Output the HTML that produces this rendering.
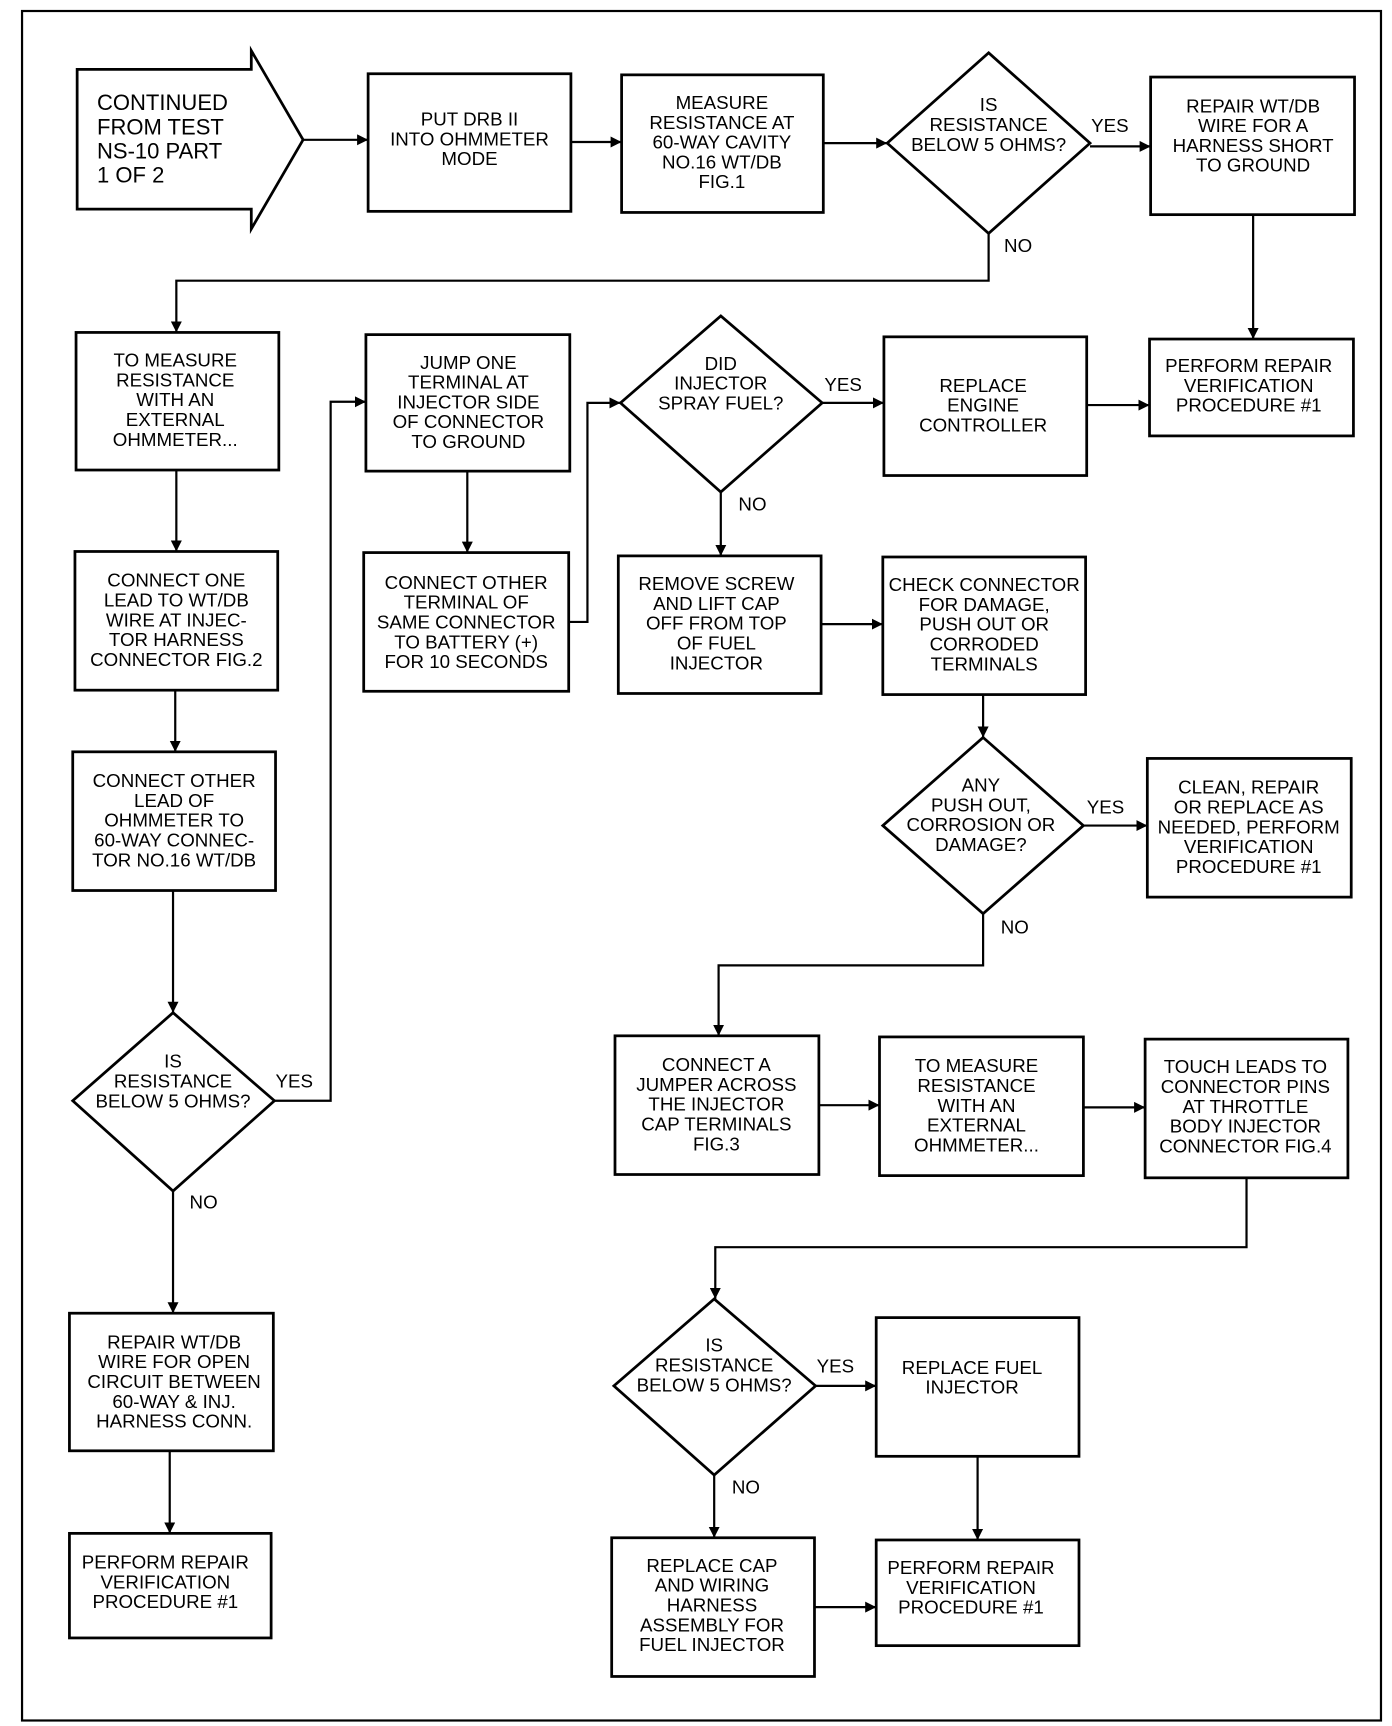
<!DOCTYPE html>
<html><head><meta charset="utf-8"><style>
html,body{margin:0;padding:0;background:#fff;}
svg{display:block;}
text{font-family:"Liberation Sans",sans-serif;font-size:17px;fill:#000;}
.b{fill:#fff;stroke:#000;stroke-width:2.5;}
.l{fill:none;stroke:#000;stroke-width:2;}
</style></head><body>
<svg width="1392" height="1726" viewBox="0 0 1263 1568" preserveAspectRatio="none" xmlns="http://www.w3.org/2000/svg">
<defs><marker id="a" viewBox="0 0 10 10" refX="10" refY="5" markerWidth="5" markerHeight="5" orient="auto"><path d="M0,0 L10,5 L0,10 z" fill="#000"/></marker></defs>
<rect x="0" y="0" width="1263" height="1568" fill="#fff"/>
<rect x="20" y="10" width="1233" height="1553" fill="none" stroke="#000" stroke-width="2"/>
<!-- start arrow -->
<path class="b" d="M70,63 L228,63 L228,46 L275,127 L228,208 L228,190 L70,190 Z"/>
<text x="88" y="100" style="font-size:20px">CONTINUED</text>
<text x="88" y="122" style="font-size:20px">FROM TEST</text>
<text x="88" y="144" style="font-size:20px">NS-10 PART</text>
<text x="88" y="166" style="font-size:20px">1 OF 2</text>
<!-- boxes -->
<rect class="b" x="334" y="67" width="184" height="125"/>
<rect class="b" x="564" y="68" width="183" height="125"/>
<polygon class="b" points="897,48 989,130 897,212 805,130"/>
<rect class="b" x="1044" y="70" width="185" height="125"/>
<rect class="b" x="69" y="302" width="184" height="125"/>
<rect class="b" x="68" y="501" width="184" height="126"/>
<rect class="b" x="66" y="683" width="184" height="126"/>
<polygon class="b" points="157,920 249,1000 157,1082 66,1000"/>
<rect class="b" x="63" y="1193" width="185" height="125"/>
<rect class="b" x="63" y="1393" width="183" height="95"/>
<rect class="b" x="332" y="304" width="185" height="124"/>
<rect class="b" x="330" y="502" width="186" height="126"/>
<polygon class="b" points="654,287 746,366 654,447 563,366"/>
<rect class="b" x="802" y="306" width="184" height="126"/>
<rect class="b" x="1043" y="308" width="185" height="88"/>
<rect class="b" x="561" y="505" width="184" height="125"/>
<rect class="b" x="801" y="506" width="184" height="125"/>
<polygon class="b" points="892,670 983,750 892,830 801,750"/>
<rect class="b" x="1041" y="689" width="185" height="126"/>
<rect class="b" x="558" y="941" width="185" height="126"/>
<rect class="b" x="798" y="942" width="185" height="126"/>
<rect class="b" x="1039" y="944" width="184" height="126"/>
<polygon class="b" points="648,1180 740,1259 648,1340 557,1259"/>
<rect class="b" x="795" y="1197" width="184" height="126"/>
<rect class="b" x="555" y="1397" width="184" height="126"/>
<rect class="b" x="795" y="1399" width="184" height="96"/>
<!-- connectors -->
<g class="l" marker-end="url(#a)">
<path d="M275,127 L334,127"/>
<path d="M518,129 L564,129"/>
<path d="M747,130 L805,130"/>
<path d="M989,133 L1044,133"/>
<path d="M897,212 L897,255 L160,255 L160,302"/>
<path d="M1137,195 L1137,308"/>
<path d="M160,427 L160,501"/>
<path d="M159,627 L159,683"/>
<path d="M157,809 L157,920"/>
<path d="M157,1082 L157,1193"/>
<path d="M154,1318 L154,1393"/>
<path d="M249,1000 L300,1000 L300,365 L332,365"/>
<path d="M424,428 L424,502"/>
<path d="M516,565 L533,565 L533,366 L563,366"/>
<path d="M746,366 L802,366"/>
<path d="M986,368 L1043,368"/>
<path d="M654,447 L654,505"/>
<path d="M745,567 L801,567"/>
<path d="M892,631 L892,670"/>
<path d="M983,750 L1041,750"/>
<path d="M892,830 L892,877 L652,877 L652,941"/>
<path d="M743,1004 L798,1004"/>
<path d="M983,1006 L1039,1006"/>
<path d="M1131,1070 L1131,1133 L649,1133 L649,1180"/>
<path d="M740,1259 L795,1259"/>
<path d="M648,1340 L648,1397"/>
<path d="M739,1460 L795,1460"/>
<path d="M887,1323 L887,1399"/>
</g>
<!-- labels -->
<text x="990" y="120">YES</text>
<text x="911" y="229">NO</text>
<text x="250" y="988">YES</text>
<text x="172" y="1098">NO</text>
<text x="748" y="355">YES</text>
<text x="670" y="464">NO</text>
<text x="986" y="739">YES</text>
<text x="908" y="848">NO</text>
<text x="741" y="1247">YES</text>
<text x="664" y="1357">NO</text>
<g text-anchor="middle">
<text x="426" y="114"><tspan x="426">PUT DRB II</tspan><tspan x="426" dy="18">INTO OHMMETER</tspan><tspan x="426" dy="18">MODE</tspan></text>
<text x="655" y="99"><tspan x="655">MEASURE</tspan><tspan x="655" dy="18">RESISTANCE AT</tspan><tspan x="655" dy="18">60-WAY CAVITY</tspan><tspan x="655" dy="18">NO.16 WT/DB</tspan><tspan x="655" dy="18">FIG.1</tspan></text>
<text x="897" y="101"><tspan x="897">IS</tspan><tspan x="897" dy="18">RESISTANCE</tspan><tspan x="897" dy="18">BELOW 5 OHMS?</tspan></text>
<text x="1137" y="102"><tspan x="1137">REPAIR WT/DB</tspan><tspan x="1137" dy="18">WIRE FOR A</tspan><tspan x="1137" dy="18">HARNESS SHORT</tspan><tspan x="1137" dy="18">TO GROUND</tspan></text>
<text x="159" y="333"><tspan x="159">TO MEASURE</tspan><tspan x="159" dy="18">RESISTANCE</tspan><tspan x="159" dy="18">WITH AN</tspan><tspan x="159" dy="18">EXTERNAL</tspan><tspan x="159" dy="18">OHMMETER...</tspan></text>
<text x="160" y="533"><tspan x="160">CONNECT ONE</tspan><tspan x="160" dy="18">LEAD TO WT/DB</tspan><tspan x="160" dy="18">WIRE AT INJEC-</tspan><tspan x="160" dy="18">TOR HARNESS</tspan><tspan x="160" dy="18">CONNECTOR FIG.2</tspan></text>
<text x="158" y="715"><tspan x="158">CONNECT OTHER</tspan><tspan x="158" dy="18">LEAD OF</tspan><tspan x="158" dy="18">OHMMETER TO</tspan><tspan x="158" dy="18">60-WAY CONNEC-</tspan><tspan x="158" dy="18">TOR NO.16 WT/DB</tspan></text>
<text x="157" y="970"><tspan x="157">IS</tspan><tspan x="157" dy="18">RESISTANCE</tspan><tspan x="157" dy="18">BELOW 5 OHMS?</tspan></text>
<text x="158" y="1225"><tspan x="158">REPAIR WT/DB</tspan><tspan x="158" dy="18">WIRE FOR OPEN</tspan><tspan x="158" dy="18">CIRCUIT BETWEEN</tspan><tspan x="158" dy="18">60-WAY &amp; INJ.</tspan><tspan x="158" dy="18">HARNESS CONN.</tspan></text>
<text x="150" y="1425"><tspan x="150">PERFORM REPAIR</tspan><tspan x="150" dy="18">VERIFICATION</tspan><tspan x="150" dy="18">PROCEDURE #1</tspan></text>
<text x="425" y="335"><tspan x="425">JUMP ONE</tspan><tspan x="425" dy="18">TERMINAL AT</tspan><tspan x="425" dy="18">INJECTOR SIDE</tspan><tspan x="425" dy="18">OF CONNECTOR</tspan><tspan x="425" dy="18">TO GROUND</tspan></text>
<text x="423" y="535"><tspan x="423">CONNECT OTHER</tspan><tspan x="423" dy="18">TERMINAL OF</tspan><tspan x="423" dy="18">SAME CONNECTOR</tspan><tspan x="423" dy="18">TO BATTERY (+)</tspan><tspan x="423" dy="18">FOR 10 SECONDS</tspan></text>
<text x="654" y="336"><tspan x="654">DID</tspan><tspan x="654" dy="18">INJECTOR</tspan><tspan x="654" dy="18">SPRAY FUEL?</tspan></text>
<text x="892" y="356"><tspan x="892">REPLACE</tspan><tspan x="892" dy="18">ENGINE</tspan><tspan x="892" dy="18">CONTROLLER</tspan></text>
<text x="1133" y="338"><tspan x="1133">PERFORM REPAIR</tspan><tspan x="1133" dy="18">VERIFICATION</tspan><tspan x="1133" dy="18">PROCEDURE #1</tspan></text>
<text x="650" y="536"><tspan x="650">REMOVE SCREW</tspan><tspan x="650" dy="18">AND LIFT CAP</tspan><tspan x="650" dy="18">OFF FROM TOP</tspan><tspan x="650" dy="18">OF FUEL</tspan><tspan x="650" dy="18">INJECTOR</tspan></text>
<text x="893" y="537"><tspan x="893">CHECK CONNECTOR</tspan><tspan x="893" dy="18">FOR DAMAGE,</tspan><tspan x="893" dy="18">PUSH OUT OR</tspan><tspan x="893" dy="18">CORRODED</tspan><tspan x="893" dy="18">TERMINALS</tspan></text>
<text x="890" y="719"><tspan x="890">ANY</tspan><tspan x="890" dy="18">PUSH OUT,</tspan><tspan x="890" dy="18">CORROSION OR</tspan><tspan x="890" dy="18">DAMAGE?</tspan></text>
<text x="1133" y="721"><tspan x="1133">CLEAN, REPAIR</tspan><tspan x="1133" dy="18">OR REPLACE AS</tspan><tspan x="1133" dy="18">NEEDED, PERFORM</tspan><tspan x="1133" dy="18">VERIFICATION</tspan><tspan x="1133" dy="18">PROCEDURE #1</tspan></text>
<text x="650" y="973"><tspan x="650">CONNECT A</tspan><tspan x="650" dy="18">JUMPER ACROSS</tspan><tspan x="650" dy="18">THE INJECTOR</tspan><tspan x="650" dy="18">CAP TERMINALS</tspan><tspan x="650" dy="18">FIG.3</tspan></text>
<text x="886" y="974"><tspan x="886">TO MEASURE</tspan><tspan x="886" dy="18">RESISTANCE</tspan><tspan x="886" dy="18">WITH AN</tspan><tspan x="886" dy="18">EXTERNAL</tspan><tspan x="886" dy="18">OHMMETER...</tspan></text>
<text x="1130" y="975"><tspan x="1130">TOUCH LEADS TO</tspan><tspan x="1130" dy="18">CONNECTOR PINS</tspan><tspan x="1130" dy="18">AT THROTTLE</tspan><tspan x="1130" dy="18">BODY INJECTOR</tspan><tspan x="1130" dy="18">CONNECTOR FIG.4</tspan></text>
<text x="648" y="1228"><tspan x="648">IS</tspan><tspan x="648" dy="18">RESISTANCE</tspan><tspan x="648" dy="18">BELOW 5 OHMS?</tspan></text>
<text x="882" y="1248"><tspan x="882">REPLACE FUEL</tspan><tspan x="882" dy="18">INJECTOR</tspan></text>
<text x="646" y="1428"><tspan x="646">REPLACE CAP</tspan><tspan x="646" dy="18">AND WIRING</tspan><tspan x="646" dy="18">HARNESS</tspan><tspan x="646" dy="18">ASSEMBLY FOR</tspan><tspan x="646" dy="18">FUEL INJECTOR</tspan></text>
<text x="881" y="1430"><tspan x="881">PERFORM REPAIR</tspan><tspan x="881" dy="18">VERIFICATION</tspan><tspan x="881" dy="18">PROCEDURE #1</tspan></text>
</g>
</svg>
</body></html>
